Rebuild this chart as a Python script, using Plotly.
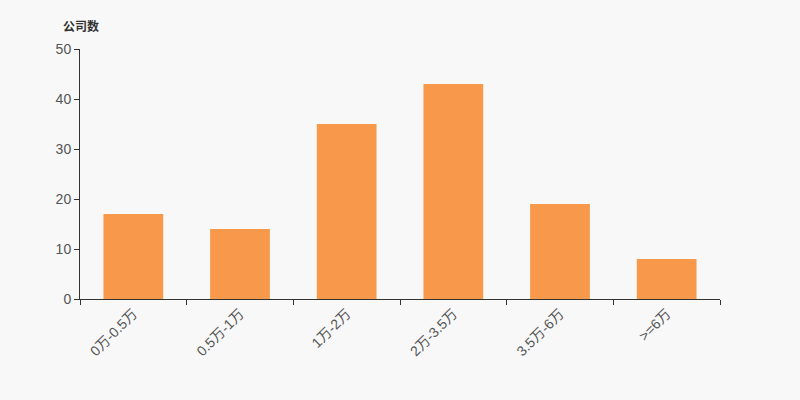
import plotly.graph_objects as go

categories = ["0万-0.5万", "0.5万-1万", "1万-2万", "2万-3.5万", "3.5万-6万", ">=6万"]
counts = [17, 14, 35, 43, 19, 8]
y_ticks = [0, 10, 20, 30, 40, 50]

bg = "#f8f8f8"
fnt = "Liberation Sans, Arial, Noto Sans CJK SC, sans-serif"
fig = go.Figure(go.Bar(x=categories, y=counts, marker=dict(color="#f8984a", line=dict(width=0)),
                       hoverinfo="x+y"))

fig.update_layout(
    width=800, height=400,
    paper_bgcolor=bg, plot_bgcolor=bg,
    margin=dict(l=80, r=80, t=49, b=101),
    bargap=0.44,
    showlegend=False,
    font=dict(family=fnt, size=12, color="#333333"),
    xaxis=dict(
        type="category", tickson="boundaries", ticks="outside", ticklen=5, tickcolor="#333333",
        showline=True, linecolor="#333333", linewidth=1, showgrid=False, tickangle=-45,
        tickfont=dict(size=14, color="#555555"), zeroline=False,
    ),
    yaxis=dict(
        range=[0, 50], tickvals=y_ticks, ticks="outside", ticklen=5, tickcolor="#333333",
        showline=True, linecolor="#333333", linewidth=1, showgrid=False, zeroline=False,
        tickfont=dict(size=14, color="#555555"),
    ),
    annotations=[dict(text="<b>公司数</b>", xref="paper", yref="paper", x=-0.03, y=1.0,
                      xanchor="left", yanchor="bottom", yshift=13, showarrow=False,
                      font=dict(size=12, color="#333333", family="Noto Sans CJK SC, sans-serif"))],
)

fig.write_html("out.html", config={"displayModeBar": False},
               post_script="document.body.style.margin='0';document.body.style.background='#f8f8f8';")
